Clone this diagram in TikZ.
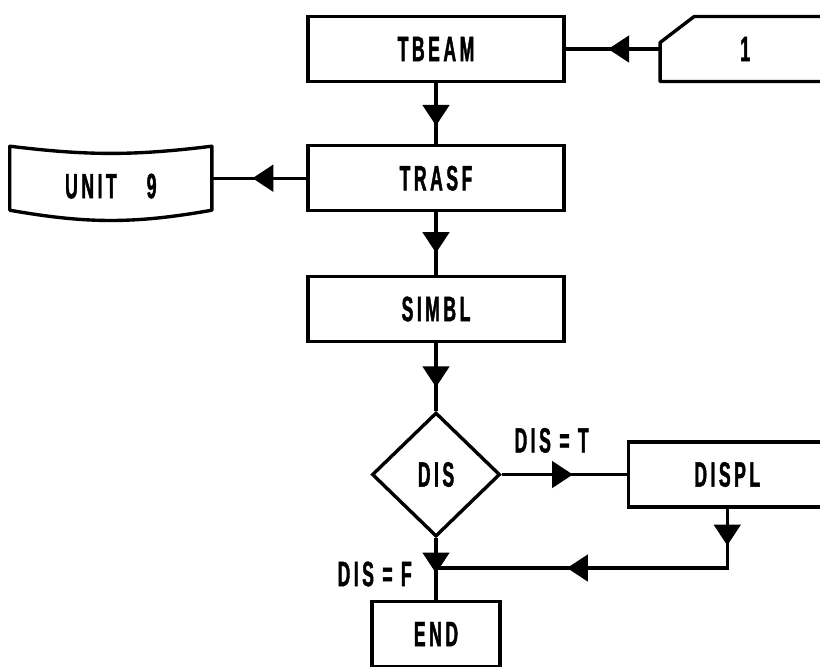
\documentclass[tikz,border=0pt]{standalone}
\usepackage{fontspec}
\newfontfamily\flowfont{Liberation Sans}[FakeStretch=0.5,LetterSpace=10,FakeBold=1.2]
\newcommand\flowtext{\flowfont\bfseries\fontsize{25}{30}\selectfont}
\usepackage{tikz}
\usetikzlibrary{positioning,shapes.geometric,arrows.meta,decorations.markings}

\begin{document}
\begin{tikzpicture}[x=0.025cm, y=-0.025cm,
    box/.style={rectangle, draw, line width=2.4pt, minimum width=6.4cm, minimum height=1.625cm,
                inner sep=0pt, font=\flowtext},
    shell/.style={rectangle, draw=none, outer sep=0pt, inner sep=0pt, font=\flowtext},
    decision/.style={diamond, draw, line width=2.4pt, minimum width=3.2cm, minimum height=3.1cm,
                     inner sep=0pt, font=\flowtext},
    outline/.style={line width=2.4pt, line join=round},
    flow/.style={line width=2.4pt, postaction={decorate},
                 decoration={markings, mark=at position #1 with {\arrow{Triangle[length=0.52cm,width=0.66cm]}}}},
    flow/.default=0.6,
    lbl/.style={inner sep=0pt, font=\flowtext},
    node distance=1.55cm,
]
\fill[white] (0,0) rectangle (820,666);
\useasboundingbox (0,0) rectangle (820,666);

\node[box] (tbeam) at (436,49) {TBEAM};
\node[box, below=1.52cm of tbeam] (trasf) {TRASF};
\node[box, below=1.56cm of trasf] (simbl) {SIMBL};
\node[decision, below=1.69cm of simbl] (dis) {DIS};
\node[box, minimum width=3.2cm, below=1.54cm of dis] (end) {END};
\node[shell, minimum width=4.25cm, minimum height=1.625cm, right=2.36cm of tbeam] (cardin) {1};
\node[shell, minimum width=5.05cm, minimum height=1.6cm, text height=1cm, text depth=0pt,
      left=2.36cm of trasf] (unit) {UNIT\hspace{0.75cm}9};
\node[box, minimum width=4.95cm, right=3.12cm of dis] (displ) {DISPL};

% card and unit outlines
\draw[outline] ([xshift=2pt]cardin.north east) -- ([xshift=0.85cm]cardin.north west)
    -- ([yshift=-0.65cm]cardin.north west) -- (cardin.south west) -- ([xshift=2pt]cardin.south east);
\draw[outline] (unit.north west) to[bend right=7] (unit.north east) -- (unit.south east)
    to[bend left=10] (unit.south west) -- cycle;

\draw[flow=0.55] (cardin.west) -- (tbeam.east);
\draw[flow=0.7] (tbeam) -- (trasf);
\draw[flow=0.57] (trasf.west) -- (unit.east);
\draw[flow=0.65] (trasf) -- (simbl);
\draw[flow=0.65] (simbl) -- (dis);
\draw[flow=0.57] (dis) -- node[lbl, pos=0.4, above=0.5cm] (dist) {DIS = T} (displ);

\coordinate (bend) at (displ.south |- 0,568);
\coordinate (merge) at (dis.south |- bend);
\draw[flow=0.62, line cap=rect] (displ.south) -- (bend);
\draw[flow=0.55] (bend) -- (merge);
\draw[flow=0.57] (dis) -- (end);
\node[lbl, anchor=east] (disf) at (412,574) {DIS = F};
\end{tikzpicture}
\end{document}
